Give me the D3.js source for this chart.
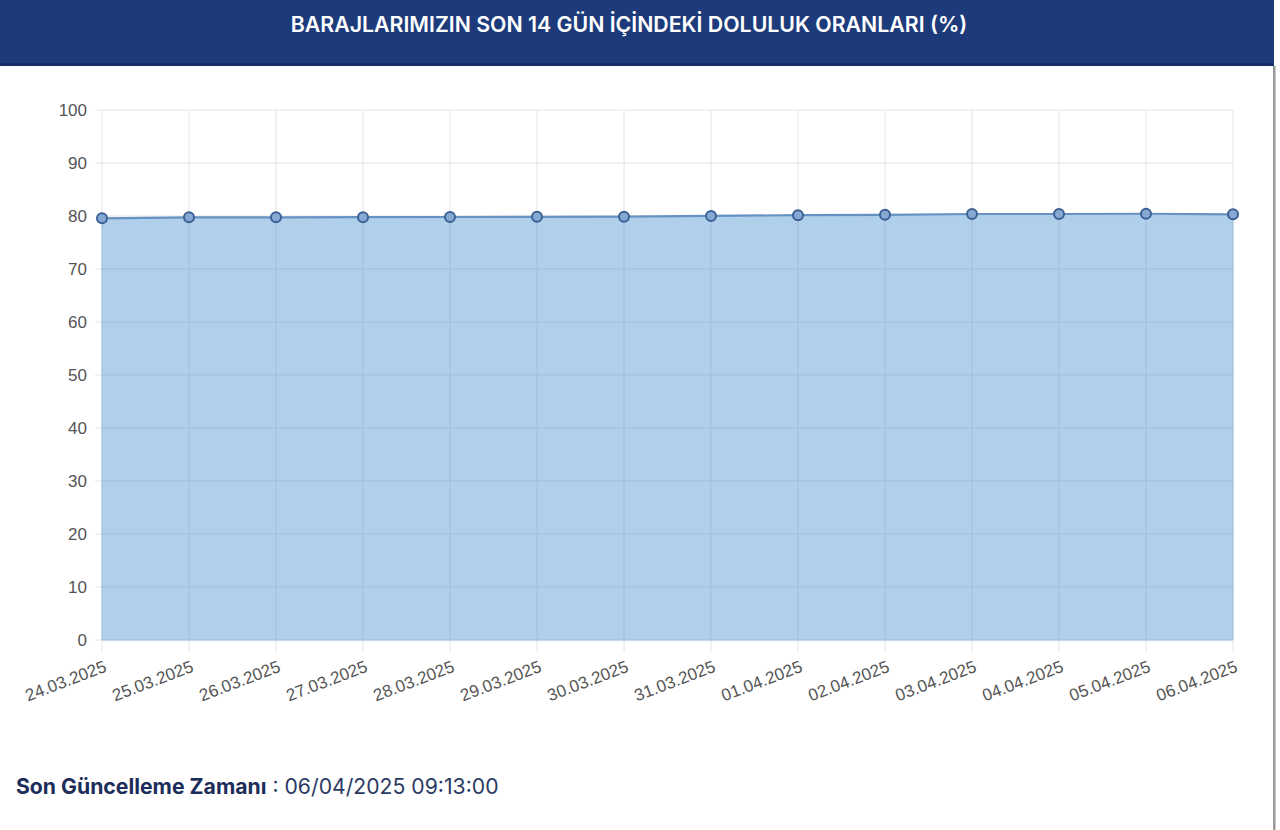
<!DOCTYPE html>
<html>
<head>
<meta charset="utf-8">
<script src="https://cdn.jsdelivr.net/npm/d3@7"></script>
<style>
  body { margin: 0; background: #fff; }
  svg { display: block; }
</style>
</head>
<body>
<svg id="chart" width="1280" height="830"></svg>
<script>
// dam fill ratios over the last 14 days (%)
const dates = ["24.03.2025", "25.03.2025", "26.03.2025", "27.03.2025", "28.03.2025", "29.03.2025", "30.03.2025",
  "31.03.2025", "01.04.2025", "02.04.2025", "03.04.2025", "04.04.2025", "05.04.2025", "06.04.2025"];
const ratios = [79.57, 79.75, 79.75, 79.77, 79.81, 79.85, 79.87, 80.02, 80.15, 80.23, 80.38, 80.38, 80.42, 80.32];
const yTicks = [0, 10, 20, 30, 40, 50, 60, 70, 80, 90, 100];

const titleText = "BARAJLARIMIZIN SON 14 GÜN İÇİNDEKİ DOLULUK ORANLARI (%)";
const updateLabel = "Son Güncelleme Zamanı";
const updateValue = " : 06/04/2025 09:13:00";

const margin = {top: 110, left: 102, right: 47, bottom: 190};
const width = 1280, height = 830;

const svg = d3.select("#chart");

// header bar
svg.append("rect")
  .attr("x", 0).attr("y", 0)
  .attr("width", 1274).attr("height", 66)
  .attr("fill", "#1d3b7b");
svg.append("rect")
  .attr("x", 0).attr("y", 63)
  .attr("width", 1274).attr("height", 3)
  .attr("fill", "#162f66");
svg.append("text")
  .attr("x", 629).attr("y", 32)
  .attr("text-anchor", "middle")
  .attr("font-family", "Inter, 'Noto Sans', sans-serif")
  .attr("font-weight", 600)
  .attr("font-size", 21.3)
  .attr("fill", "#fff")
  .text(titleText);

// card border on the right
svg.append("rect")
  .attr("x", 1273).attr("y", 66)
  .attr("width", 2.5).attr("height", height - 66)
  .attr("fill", "#9a9a9a");

const x = d3.scalePoint()
  .domain(dates)
  .range([margin.left, width - margin.right]);

const y = d3.scaleLinear()
  .domain([0, 100])
  .range([height - margin.bottom, margin.top]);

// grid
const g = svg.append("g");
g.selectAll(".hgrid")
  .data(yTicks)
  .join("line")
  .attr("x1", margin.left - 7).attr("x2", width - margin.right)
  .attr("y1", d => y(d)).attr("y2", d => y(d))
  .attr("stroke", "#e4e4e4").attr("stroke-width", 1);
g.selectAll(".vgrid")
  .data(dates)
  .join("line")
  .attr("x1", d => x(d)).attr("x2", d => x(d))
  .attr("y1", margin.top).attr("y2", y(0) + 12)
  .attr("stroke", "#e4e4e4").attr("stroke-width", 1);

const data = dates.map((d, i) => ({date: d, value: ratios[i]}));

// area + line
svg.append("path")
  .datum(data)
  .attr("fill", "#a9cbe9")
  .attr("fill-opacity", 0.92)
  .attr("d", d3.area().x(d => x(d.date)).y0(y(0)).y1(d => y(d.value)));

// faint grid lines showing through the fill
svg.append("g").selectAll("line")
  .data(data)
  .join("line")
  .attr("x1", d => x(d.date)).attr("x2", d => x(d.date))
  .attr("y1", d => y(d.value)).attr("y2", y(0))
  .attr("stroke", "#9fbfdc").attr("stroke-width", 1);
svg.append("g").selectAll("line")
  .data(yTicks.filter(t => t < 80))
  .join("line")
  .attr("x1", margin.left).attr("x2", width - margin.right)
  .attr("y1", d => y(d)).attr("y2", d => y(d))
  .attr("stroke", "#9fbfdc").attr("stroke-width", 1);

svg.append("path")
  .datum(data)
  .attr("fill", "none")
  .attr("stroke", "#6592c2")
  .attr("stroke-width", 2.2)
  .attr("d", d3.line().x(d => x(d.date)).y(d => y(d.value)));

// markers
svg.append("g").selectAll("circle")
  .data(data)
  .join("circle")
  .attr("cx", d => x(d.date))
  .attr("cy", d => y(d.value))
  .attr("r", 5)
  .attr("fill", "#86a9d3")
  .attr("stroke", "#3b6194")
  .attr("stroke-width", 2);

// y axis labels
const yAxis = d3.axisLeft(y).tickValues(yTicks).tickSize(0).tickPadding(15);
svg.append("g")
  .attr("transform", `translate(${margin.left},0)`)
  .call(yAxis)
  .call(a => a.select(".domain").remove())
  .selectAll("text")
  .attr("font-family", "'Liberation Sans', Arial, sans-serif")
  .attr("font-size", 17)
  .attr("fill", "#555");

// x axis labels, rotated
const xAxis = d3.axisBottom(x).tickSize(0).tickPadding(0);
svg.append("g")
  .attr("transform", `translate(0,${y(0)})`)
  .call(xAxis)
  .call(a => a.select(".domain").remove())
  .selectAll("text")
  .attr("font-family", "'Liberation Sans', Arial, sans-serif")
  .attr("font-size", 17)
  .attr("fill", "#555")
  .attr("text-anchor", "end")
  .attr("dy", 0)
  .attr("y", 0)
  .attr("transform", "translate(5,31) rotate(-21)");

// footer
const foot = svg.append("text")
  .attr("x", 16).attr("y", 794)
  .attr("font-family", "Inter, 'Noto Sans', sans-serif")
  .attr("font-size", 21.2)
  .attr("fill", "#1d2d5a");
foot.append("tspan").attr("font-weight", 700).text(updateLabel);
foot.append("tspan").attr("fill", "#2b3a63").text(updateValue);
</script>
</body>
</html>
